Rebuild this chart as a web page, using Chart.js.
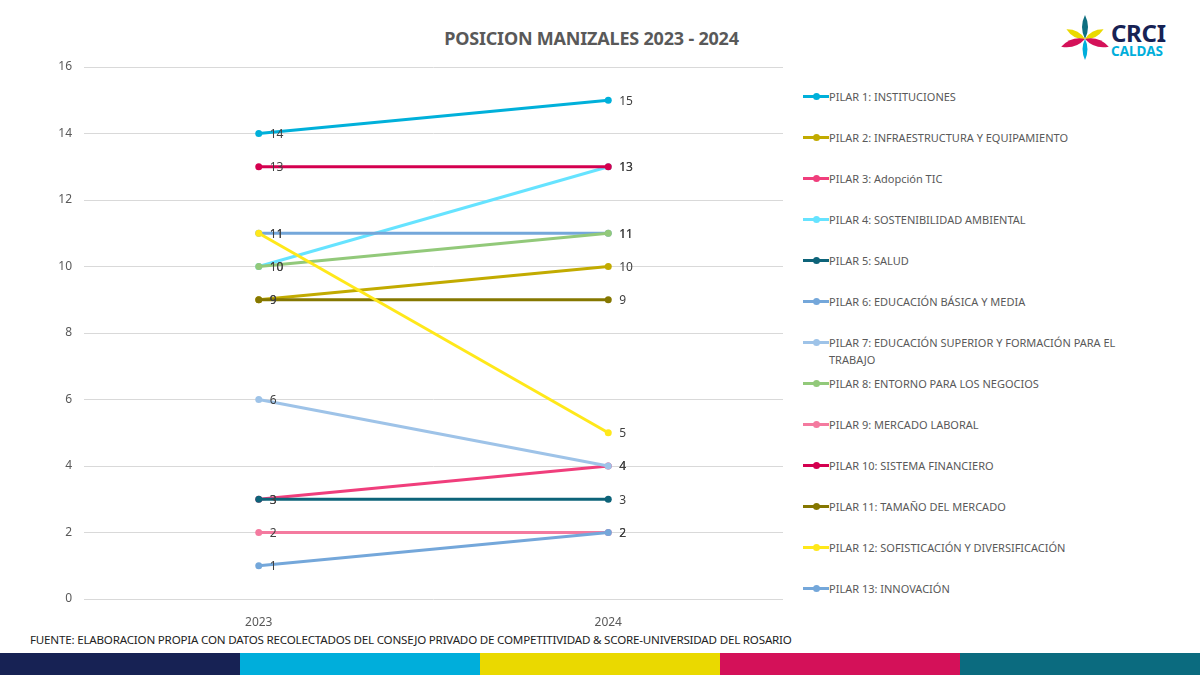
<!DOCTYPE html>
<html>
<head>
<meta charset="utf-8">
<script src="https://cdn.jsdelivr.net/npm/chart.js@4"></script>
<style>
  body { margin: 0; width: 1200px; height: 675px; overflow: hidden; background: #fff; font-family: "Noto Sans", sans-serif; position: relative; }
  #title { position: absolute; left: 0; width: 1183px; top: 26px; text-align: center; font-weight: bold; font-size: 18px; color: #595959; letter-spacing: -0.2px; }
  #wrap { position: absolute; left: 0; top: 0; width: 790px; height: 630px; }
  #legend { position: absolute; left: 803px; top: 88px; width: 330px; }
  .item { height: 41px; position: relative; }
  .swatch { position: absolute; left: 0; top: 7px; width: 26px; height: 3px; }
  .swatch i { position: absolute; left: 10px; top: -2px; width: 7px; height: 7px; border-radius: 50%; }
  .label { position: absolute; left: 26px; width: 295px; font-size: 11px; line-height: 17px; color: #595959; }
  #source { position: absolute; left: 30px; top: 632px; font-size: 11.6px; color: #222; letter-spacing: -0.2px; }
  .bar { position: absolute; top: 653px; height: 22px; width: 240px; }
  #logo { position: absolute; left: 1058px; top: 12px; }
</style>
</head>
<body>
<div id="title">POSICION MANIZALES 2023 - 2024</div>
<div id="wrap"><canvas id="chart"></canvas></div>
<div id="legend"></div>
<div id="source">FUENTE: ELABORACION PROPIA CON DATOS RECOLECTADOS DEL CONSEJO PRIVADO DE COMPETITIVIDAD &amp; SCORE-UNIVERSIDAD DEL ROSARIO</div>
<div class="bar" style="left:0;background:#172254"></div>
<div class="bar" style="left:240px;background:#00AEDB"></div>
<div class="bar" style="left:480px;background:#EAD900"></div>
<div class="bar" style="left:720px;background:#D41159"></div>
<div class="bar" style="left:960px;background:#0B6B7F"></div>
<svg id="logo" width="130" height="52" viewBox="0 0 130 52">
  <g transform="translate(27,27)">
    <path d="M0,0 Q-6,-12 0,-24 Q6,-12 0,0Z" fill="#0E6F80"/>
    <path d="M0,0 Q-6,-10 0,-21 Q6,-10 0,0Z" fill="#EAD900" transform="rotate(-62)"/>
    <path d="M0,0 Q-6,-10 0,-21 Q6,-10 0,0Z" fill="#EAD900" transform="rotate(62)"/>
    <path d="M0,0 Q-7,-12 0,-25 Q7,-12 0,0Z" fill="#D41159" transform="rotate(-108)"/>
    <path d="M0,0 Q-7,-12 0,-25 Q7,-12 0,0Z" fill="#D41159" transform="rotate(108)"/>
    <path d="M0,0 Q-5,-10 0,-21 Q5,-10 0,0Z" fill="#00AEDB" transform="rotate(180)"/>
  </g>
  <text x="53" y="30" font-family="Noto Sans" font-weight="bold" font-size="24" fill="#172254" letter-spacing="-0.3">CRCI</text>
  <text x="53" y="44" font-family="Noto Sans" font-weight="bold" font-size="13.5" fill="#00AEDB">CALDAS</text>
</svg>
<script>
const years = ['2023', '2024'];
const pillars = [
  'PILAR 1: INSTITUCIONES',
  'PILAR 2: INFRAESTRUCTURA Y EQUIPAMIENTO',
  'PILAR 3: Adopción TIC',
  'PILAR 4: SOSTENIBILIDAD AMBIENTAL',
  'PILAR 5: SALUD',
  'PILAR 6: EDUCACIÓN BÁSICA Y MEDIA',
  'PILAR 7: EDUCACIÓN SUPERIOR Y FORMACIÓN PARA EL TRABAJO',
  'PILAR 8: ENTORNO PARA LOS NEGOCIOS',
  'PILAR 9: MERCADO LABORAL',
  'PILAR 10: SISTEMA FINANCIERO',
  'PILAR 11: TAMAÑO DEL MERCADO',
  'PILAR 12: SOFISTICACIÓN Y DIVERSIFICACIÓN',
  'PILAR 13: INNOVACIÓN'
];
const pos2023 = [14, 9, 3, 10, 3, 11, 6, 10, 2, 13, 9, 11, 1];
const pos2024 = [15, 10, 4, 13, 3, 11, 4, 11, 2, 13, 9, 5, 2];
const colors = ['#00B0DA', '#C2AB00', '#F03E7C', '#66E3FF', '#0D6379', '#74A7DA', '#9EC3E8',
                '#92C97A', '#F47A9F', '#D4004F', '#857700', '#FFE81A', '#74A7DA'];

const datasets = pillars.map((name, i) => ({
  label: name,
  data: [pos2023[i], pos2024[i]],
  borderColor: colors[i],
  backgroundColor: colors[i],
  borderWidth: 3,
  pointRadius: 3.5,
  pointBorderWidth: 0,
  pointHoverRadius: 3.5,
  order: pillars.length - i   // later pillars drawn on top, like the original
}));

// numbers to the right of each point
const valueLabels = {
  id: 'valueLabels',
  afterDatasetsDraw(chart) {
    const ctx = chart.ctx;
    ctx.save();
    ctx.font = '12px "Noto Sans"';
    ctx.fillStyle = '#404040';
    ctx.textAlign = 'left';
    ctx.textBaseline = 'middle';
    chart.data.datasets.forEach((ds, i) => {
      chart.getDatasetMeta(i).data.forEach((pt, j) => {
        ctx.fillText(ds.data[j], pt.x + 11, pt.y + 1);
      });
    });
    ctx.restore();
  }
};

const chart = new Chart(document.getElementById('chart'), {
  type: 'line',
  data: { labels: years, datasets: datasets },
  options: {
    responsive: true,
    maintainAspectRatio: false,
    animation: false,
    layout: { padding: { left: 40, top: 67, right: 7, bottom: 0 } },
    plugins: {
      legend: { display: false },
      tooltip: { enabled: false }
    },
    scales: {
      x: {
        offset: true,
        grid: { display: false },
        border: { display: false },
        ticks: { color: '#595959', font: { size: 12, family: 'Noto Sans' }, padding: 8 },
        afterFit(scale) { scale.height = 31; }
      },
      y: {
        min: 0,
        max: 16,
        ticks: { stepSize: 2, color: '#595959', font: { size: 12, family: 'Noto Sans' }, padding: 12 },
        grid: { color: '#D9D9D9', drawTicks: false },
        border: { display: false },
        afterFit(scale) { scale.width = 44; }
      }
    }
  },
  plugins: [valueLabels]
});

// legend built from the chart's datasets
const legend = document.getElementById('legend');
chart.data.datasets.forEach(ds => {
  const row = document.createElement('div');
  row.className = 'item';
  row.innerHTML = '<div class="swatch" style="background:' + ds.borderColor + '"><i style="background:' + ds.borderColor + '"></i></div>' +
                  '<div class="label">' + ds.label + '</div>';
  legend.appendChild(row);
});
</script>
</body>
</html>
